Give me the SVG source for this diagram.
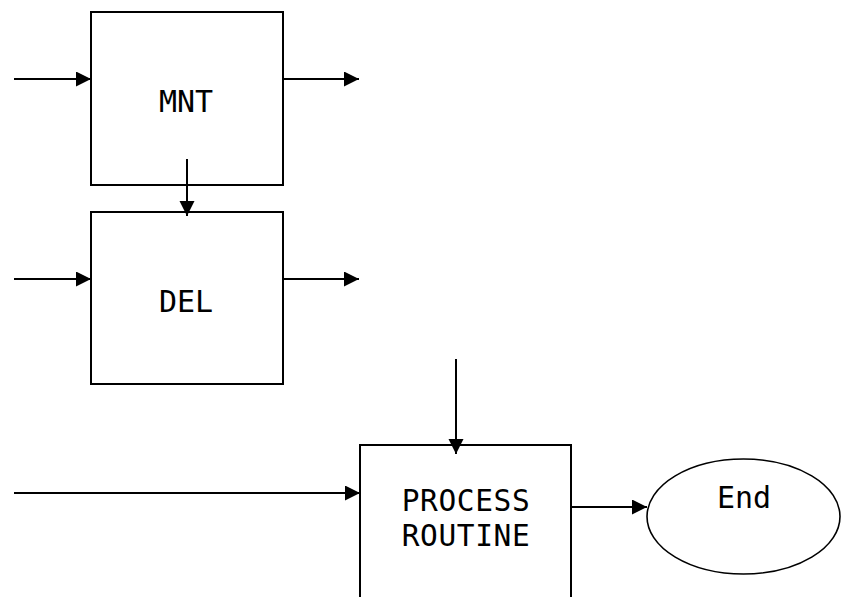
<svg xmlns="http://www.w3.org/2000/svg" width="849" height="597" viewBox="0 0 849 597">
<style>
.box{fill:#fff;stroke:#000;stroke-width:2}
.ell{fill:#fff;stroke:#000;stroke-width:1.6}
.lbl{font-family:"DejaVu Sans Mono","Liberation Mono",monospace;font-size:30px;fill:#000;text-anchor:middle}
.big{font-size:29.5px;letter-spacing:0.6px}
.edge{stroke:#000;stroke-width:2;fill:none;marker-end:url(#ah)}
</style>
<defs>
<marker id="ah" markerWidth="16" markerHeight="16" refX="15" refY="7.5" orient="auto" markerUnits="userSpaceOnUse">
<path d="M0,0 L15,7.5 L0,15 Z" fill="#000"/>
</marker>
</defs>
<g id="node-mnt">
<rect class="box" x="91" y="12" width="192" height="173"/>
<text class="lbl" x="186" y="112">MNT</text>
</g>
<g id="node-del">
<rect class="box" x="91" y="212" width="192" height="172"/>
<text class="lbl" x="186" y="312">DEL</text>
</g>
<g id="node-process">
<rect class="box" x="360" y="445" width="211" height="170"/>
<text class="lbl big" x="466" y="511"><tspan x="466" y="511">PROCESS</tspan><tspan x="466" y="545.5">ROUTINE</tspan></text>
</g>
<g id="node-end">
<ellipse class="ell" cx="743.5" cy="516.5" rx="96.5" ry="57.5"/>
<text class="lbl" x="744" y="508">End</text>
</g>
<g id="connectors">
<line class="edge" x1="14" y1="79" x2="91" y2="79"/>
<line class="edge" x1="283" y1="79" x2="359" y2="79"/>
<line class="edge" x1="187" y1="159" x2="187" y2="216"/>
<line class="edge" x1="14" y1="279" x2="91" y2="279"/>
<line class="edge" x1="283" y1="279" x2="359" y2="279"/>
<line class="edge" x1="456" y1="359" x2="456" y2="454"/>
<line class="edge" x1="14" y1="493" x2="360" y2="493"/>
<line class="edge" x1="571" y1="507" x2="647" y2="507"/>
</g>
</svg>
